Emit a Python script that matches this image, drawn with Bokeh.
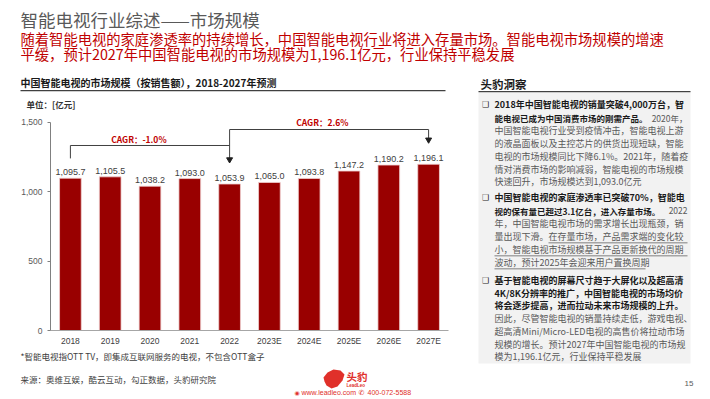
from bokeh.plotting import figure
from bokeh.models import Range1d, NumeralTickFormatter, FixedTicker
from bokeh.core.properties import value
from bokeh.embed import file_html
from bokeh.resources import INLINE

# ---------------- data ----------------
years = ["2018", "2019", "2020", "2021", "2022", "2023E", "2024E", "2025E", "2026E", "2027E"]
market = [1095.7, 1105.5, 1038.2, 1093.0, 1053.9, 1065.0, 1093.8, 1147.2, 1190.2, 1196.1]
y_ticks = [0, 500, 1000, 1500]
cagr_labels = ["CAGR：-1.0%", "CAGR：2.6%"]

CJK = "Noto Sans CJK SC"
LAT = "Liberation Sans"
RED = "#C00000"

# ---------------- layout (page pixels) ----------------
W, H = 710, 399
chart_left, chart_right, chart_base, chart_top = 50, 448, 330, 121.5
n = len(years)
idx = list(range(n))
ux = n / (chart_right - chart_left)
x0 = -0.5 - chart_left * ux
uy = y_ticks[-1] / (chart_base - chart_top)
y0 = -(H - chart_base) * uy

p = figure(width=W, height=H, x_range=Range1d(x0, x0 + W * ux), y_range=Range1d(y0, y0 + H * uy),
           output_backend="svg", toolbar_location=None, min_border=0)
p.extra_x_ranges = {"px": Range1d(0, W)}
p.extra_y_ranges = {"px": Range1d(H, 0)}
p.outline_line_color = None
p.background_fill_color = "white"
p.border_fill_color = "white"
p.xgrid.grid_line_color = None
p.ygrid.grid_line_color = None
p.title.visible = False

# axes (fixed inside frame)
p.yaxis.fixed_location = -0.5
p.yaxis.ticker = FixedTicker(ticks=y_ticks)
p.yaxis.formatter = NumeralTickFormatter(format="0,0")
p.yaxis.bounds = (y_ticks[0], y_ticks[-1])
p.yaxis.axis_line_color = "#808080"
p.yaxis.major_tick_line_color = "#808080"
p.yaxis.major_tick_out = 3
p.yaxis.major_tick_in = 0
p.yaxis.minor_tick_line_color = None
p.yaxis.major_label_text_font = LAT
p.yaxis.major_label_text_font_size = "8.5px"
p.yaxis.major_label_text_color = "#595959"
p.yaxis.major_label_standoff = 5

p.xaxis.fixed_location = 0
p.xaxis.bounds = (-0.5, n - 0.5)
p.xaxis.ticker = FixedTicker(ticks=idx)
p.xaxis.major_label_overrides = {i: y for i, y in zip(idx, years)}
p.xaxis.axis_line_color = "#a6a6a6"
p.xaxis.major_tick_line_color = None
p.xaxis.major_tick_out = 0
p.xaxis.major_tick_in = 0
p.xaxis.minor_tick_line_color = None
p.xaxis.major_label_text_font = LAT
p.xaxis.major_label_text_font_size = "8.5px"
p.xaxis.major_label_text_color = "#404040"
p.xaxis.major_label_standoff = 5


def lab(X, Y, s, size, color, bold=False, align="left", font=CJK):
    p.text(x=[X], y=[Y], text=[s], x_range_name="px", y_range_name="px",
           text_font=value(font), text_font_size=f"{size}px", text_color=color,
           text_font_style="bold" if bold else "normal",
           text_align=align, text_baseline="middle")


def box(X1, Y1, X2, Y2, color):
    p.quad(left=[X1], right=[X2], top=[Y1], bottom=[Y2], x_range_name="px", y_range_name="px",
           fill_color=color, line_color=None)


# right gray panel & header rules
box(478, 92, 690, 363, "#f2f2f2")
box(20, 89.4, 445, 90.8, "#404040")
box(478, 90.4, 690, 91.8, "#404040")

# ---------------- bar chart ----------------
p.vbar(x=idx, top=market, width=0.545, fill_color="#990000",
       line_color="#f0d0d0", line_width=0.8)
p.text(x=idx, y=market, text=[f"{v:,.1f}" for v in market], text_align="center",
       text_baseline="bottom", y_offset=-3, text_font_size="9px", text_color="#404040",
       text_font=value(LAT))

# CAGR brackets (annotation geometry)
first, split, last = idx[0], idx[4], idx[-1]
lv_low, lv_mid, lv_high = 1238, 1331, 1446
p.line(x=[first, first, split], y=[lv_low, lv_mid, lv_mid], line_color="#404040", line_width=1)
p.line(x=[split, split], y=[lv_high, 1232], line_color="#404040", line_width=1)
p.line(x=[split, last, last], y=[lv_high, lv_high, 1372], line_color="#404040", line_width=1)
p.scatter(x=[split, last], y=[1230, 1372], marker="inverted_triangle", size=6,
          fill_color="#202020", line_color="#202020")
p.text(x=[1.72, 6.33], y=[1380, 1497], text=cagr_labels,
       text_align="center", text_baseline="middle", text_font_size="8.5px",
       text_font_style="bold", text_color=RED, text_font=value(CJK))

# ---------------- slide texts ----------------
lab(20, 19, "智能电视行业综述——市场规模", 17.5, "#595959")
lab(20, 38, "随着智能电视的家庭渗透率的持续增长，中国智能电视行业将进入存量市场。智能电视市场规模的增速", 14.3, RED)
lab(20, 53, "平缓，预计2027年中国智能电视的市场规模为1,196.1亿元，行业保持平稳发展", 14.3, RED)

lab(20, 82, "中国智能电视的市场规模（按销售额），2018-2027年预测", 10, "#1a1a1a", bold=True)
lab(26, 103, "单位：[亿元]", 8.5, "#333333", bold=True)
lab(480, 83, "头豹洞察", 11.5, "#1a1a1a", bold=True)

lab(20, 355, "*智能电视指OTT TV，即集成互联网服务的电视，不包含OTT盒子", 8.5, "#404040")
lab(20, 378, "来源：奥维互娱，酷云互动，勾正数据，头豹研究院", 8.5, "#404040")
lab(693, 383, "15", 8, "#595959", align="right", font=LAT)

# logo
p.patch(x=[323, 327, 333, 340, 344, 342, 337, 331, 326, 324],
        y=[377, 372, 369, 370, 374, 380, 386, 388, 385, 381],
        x_range_name="px", y_range_name="px", fill_color="#e0302a", line_color=None)
lab(346, 376, "头豹", 10.5, "#e0302a", bold=True)
lab(346, 385, "LeadLeo", 4.5, "#e0302a", bold=True, font=LAT)
lab(294, 392, "◉", 6, "#e0302a", font="DejaVu Sans")
lab(301, 392, "www.leadleo.com", 7, "#e0302a", font=LAT)
lab(358, 392, "✆", 7, "#e0302a", font="DejaVu Sans")
lab(367, 392, "400-072-5588", 7, "#e0302a", font=LAT)

# right panel text
TX, BX, RX = 494, 485, 687
DARK, GRAY = "#1a1a1a", "#595959"
FS = 9


def bullet(Y):
    lab(BX, Y, "❑", 8, DARK, font="DejaVu Sans", align="center")


bullet(104)
lab(TX, 104, "2018年中国智能电视的销量突破4,000万台，智", FS, DARK, bold=True)
lab(TX, 117, "能电视已成为中国消费市场的刚需产品。", 8.5, DARK, bold=True)
lab(RX, 117, "2020年，", 8.5, GRAY, align="right")
lab(TX, 130, "中国智能电视行业受到疫情冲击，智能电视上游", FS, GRAY)
lab(TX, 143, "的液晶面板以及主控芯片的供货出现短缺，智能", FS, GRAY)
lab(TX, 156, "电视的市场规模同比下降6.1%。2021年，随着疫", FS, GRAY)
lab(TX, 168.5, "情对消费市场的影响减弱，智能电视的市场规模", FS, GRAY)
lab(TX, 181, "快速回升，市场规模达到1,093.0亿元", FS, GRAY)

bullet(197)
lab(TX, 197, "中国智能电视的家庭渗透率已突破70%，智能电", FS, DARK, bold=True)
lab(TX, 210, "视的保有量已超过3.1亿台，进入存量市场。", 8.5, DARK, bold=True)
lab(RX, 210, "2022", 8.5, GRAY, align="right")
lab(TX, 223, "年，中国智能电视市场的需求增长出现瓶颈，销", FS, GRAY)
lab(TX, 236, "量出现下滑。在存量市场，产品需求端的变化较", FS, GRAY)
lab(TX, 249, "小，智能电视市场规模基于产品更新换代的周期", FS, GRAY)
lab(TX, 262, "波动，预计2025年会迎来用户置换周期", FS, GRAY)
box(548, 242, RX, 242.7, GRAY)
box(TX, 255, RX, 255.7, GRAY)
box(TX, 268, 645, 268.7, GRAY)

bullet(280)
lab(TX, 280, "基于智能电视的屏幕尺寸趋于大屏化以及超高清", FS, DARK, bold=True)
lab(TX, 292.5, "4K/8K分辨率的推广，中国智能电视的市场均价", FS, DARK, bold=True)
lab(TX, 305, "将会逐步提高，进而拉动未来市场规模的上升。", FS, DARK, bold=True)
lab(TX, 318, "因此，尽管智能电视的销量持续走低，游戏电视、", FS, GRAY)
lab(TX, 331, "超高清Mini/Micro-LED电视的高售价将拉动市场", FS, GRAY)
lab(TX, 343.5, "规模的增长。预计2027年中国智能电视的市场规", FS, GRAY)
lab(TX, 356, "模为1,196.1亿元，行业保持平稳发展", FS, GRAY)

open("out.html", "w").write(file_html(p, INLINE))
